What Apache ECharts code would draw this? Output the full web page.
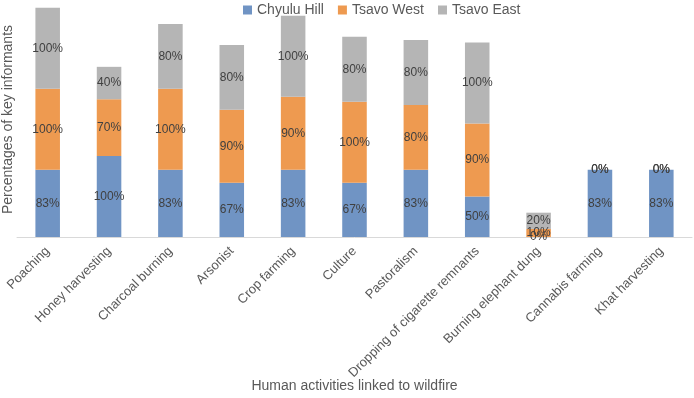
<!DOCTYPE html>
<html>
<head>
<meta charset="utf-8">
<script src="https://cdn.jsdelivr.net/npm/echarts@6/dist/echarts.min.js"></script>
<style>
  html, body { margin: 0; padding: 0; background: #fff; }
  #main { width: 694px; height: 398px; }
</style>
</head>
<body>
<div id="main"></div>
<script>
var activities = ['Poaching', 'Honey harvesting', 'Charcoal burning', 'Arsonist', 'Crop farming',
    'Culture', 'Pastoralism', 'Dropping of cigarette remnants', 'Burning elephant dung',
    'Cannabis farming', 'Khat harvesting'];
var chyuluHill = [83, 100, 83, 67, 83, 67, 83, 50, 0, 83, 83];
var tsavoWest = [100, 70, 100, 90, 90, 100, 80, 90, 10, 0, 0];
var tsavoEast = [100, 40, 80, 80, 100, 80, 80, 100, 20, 0, 0];

var myChart = echarts.init(document.getElementById('main'));
var txt = '#595959';
var font = 'Liberation Sans, Arial, sans-serif';

function makeSeries(name, data, color) {
    return {
        name: name,
        type: 'bar',
        stack: 'total',
        barWidth: '40%',
        data: data,
        itemStyle: { color: color },
        label: {
            show: true,
            position: 'inside',
            formatter: '{c}%',
            color: '#404040',
            fontSize: 12,
            fontFamily: font
        }
    };
}

myChart.setOption({
    animation: false,
    textStyle: { fontFamily: font },
    legend: {
        top: -2,
        left: 238,
        itemWidth: 9,
        itemHeight: 9,
        itemGap: 14,
        icon: 'rect',
        textStyle: { color: txt, fontSize: 14, fontFamily: font },
        data: ['Chyulu Hill', 'Tsavo West', 'Tsavo East']
    },
    grid: { left: 17, right: 2, top: 2, bottom: 161, containLabel: false, outerBoundsMode: 'none' },
    xAxis: {
        type: 'category',
        data: activities,
        axisLine: { lineStyle: { color: '#d9d9d9' } },
        axisTick: { show: false },
        axisLabel: { rotate: 45, color: txt, fontSize: 13, margin: 12, interval: 0, fontFamily: font },
        name: 'Human activities linked to wildfire',
        nameLocation: 'middle',
        nameGap: 142,
        nameMoveOverlap: false,
        nameTextStyle: { color: txt, fontSize: 14, fontFamily: font }
    },
    yAxis: {
        type: 'value',
        min: 0,
        max: 290,
        axisLine: { show: false },
        axisTick: { show: false },
        axisLabel: { show: false },
        splitLine: { show: false },
        name: 'Percentages of key informants',
        nameLocation: 'middle',
        nameGap: 2,
        nameTextStyle: { color: txt, fontSize: 14, fontFamily: font }
    },
    series: [
        makeSeries('Chyulu Hill', chyuluHill, '#7094c4'),
        makeSeries('Tsavo West', tsavoWest, '#ee9a50'),
        makeSeries('Tsavo East', tsavoEast, '#b5b5b5')
    ]
});
</script>
</body>
</html>
